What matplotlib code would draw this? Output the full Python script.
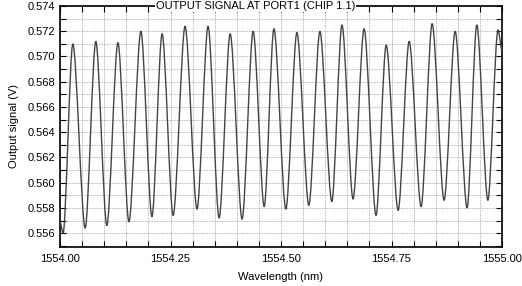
import numpy as np
import matplotlib
matplotlib.use('Agg')
import matplotlib.pyplot as plt
from matplotlib.path import Path
from matplotlib.patches import PathPatch
from matplotlib.ticker import MultipleLocator, FormatStrFormatter

plt.rcParams['font.family'] = ['Liberation Sans', 'DejaVu Sans']

wavelength = [1554.000, 1554.007, 1554.029, 1554.057, 1554.081, 1554.106, 1554.131,
              1554.156, 1554.183, 1554.208, 1554.231, 1554.256, 1554.283, 1554.310,
              1554.335, 1554.360, 1554.385, 1554.412, 1554.437, 1554.462, 1554.484,
              1554.511, 1554.536, 1554.563, 1554.588, 1554.615, 1554.638, 1554.663,
              1554.688, 1554.715, 1554.738, 1554.765, 1554.790, 1554.817, 1554.842,
              1554.869, 1554.894, 1554.921, 1554.943, 1554.968, 1554.991, 1555.000]
signal = [0.5569, 0.5560, 0.5710, 0.5564, 0.5712, 0.5566, 0.5711,
          0.5569, 0.5720, 0.5573, 0.5718, 0.5574, 0.5724, 0.5579,
          0.5724, 0.5572, 0.5718, 0.5571, 0.5720, 0.5581, 0.5722,
          0.5579, 0.5719, 0.5582, 0.5720, 0.5585, 0.5725, 0.5587,
          0.5722, 0.5574, 0.5709, 0.5578, 0.5712, 0.5581, 0.5726,
          0.5586, 0.5720, 0.5580, 0.5725, 0.5586, 0.5721, 0.5705]

fig = plt.figure(figsize=(5.22, 2.86), dpi=100)
ax = fig.add_axes([60/522, 1-247/286, 442/522, 241/286])

# smooth trace between extrema (horizontal tangents at each turning point)
verts = [(wavelength[0], signal[0])]
codes = [Path.MOVETO]
for i in range(1, len(wavelength)):
    x0, y0 = wavelength[i-1], signal[i-1]
    x1, y1 = wavelength[i], signal[i]
    d = 0.3*(x1-x0)
    verts += [(x0+d, y0), (x1-d, y1), (x1, y1)]
    codes += [Path.CURVE4]*3
ax.add_patch(PathPatch(Path(verts, codes), fill=False, edgecolor='#444444', lw=1.0, zorder=3))

ax.set_xlim(1554.0, 1555.0)
ax.set_ylim(0.5549, 0.5740)
ax.xaxis.set_major_locator(MultipleLocator(0.25))
ax.xaxis.set_minor_locator(MultipleLocator(0.05))
ax.yaxis.set_major_locator(MultipleLocator(0.002))
ax.yaxis.set_minor_locator(MultipleLocator(0.001))
ax.xaxis.set_major_formatter(FormatStrFormatter('%.2f'))
ax.yaxis.set_major_formatter(FormatStrFormatter('%.3f'))
ax.tick_params(which='both', direction='in', top=True, right=True, length=4, width=0.8, labelsize=8)
ax.tick_params(axis='x', pad=5)
ax.grid(which='both', linestyle=(0, (1, 1)), color='#a0a0a0', linewidth=0.6)
for s in ax.spines.values():
    s.set_linewidth(1.2)

ax.set_xlabel('Wavelength (nm)', fontsize=8, labelpad=6)
ax.set_ylabel('Output signal (V)', fontsize=8, labelpad=6)
ax.text(0.443, 1.0, 'OUTPUT SIGNAL AT PORT1 (CHIP 1.1)', transform=ax.transAxes,
        ha='center', va='center', fontsize=8, zorder=5,
        bbox=dict(facecolor='white', edgecolor='none', pad=0.5))

fig.savefig('out.png', dpi=100)
